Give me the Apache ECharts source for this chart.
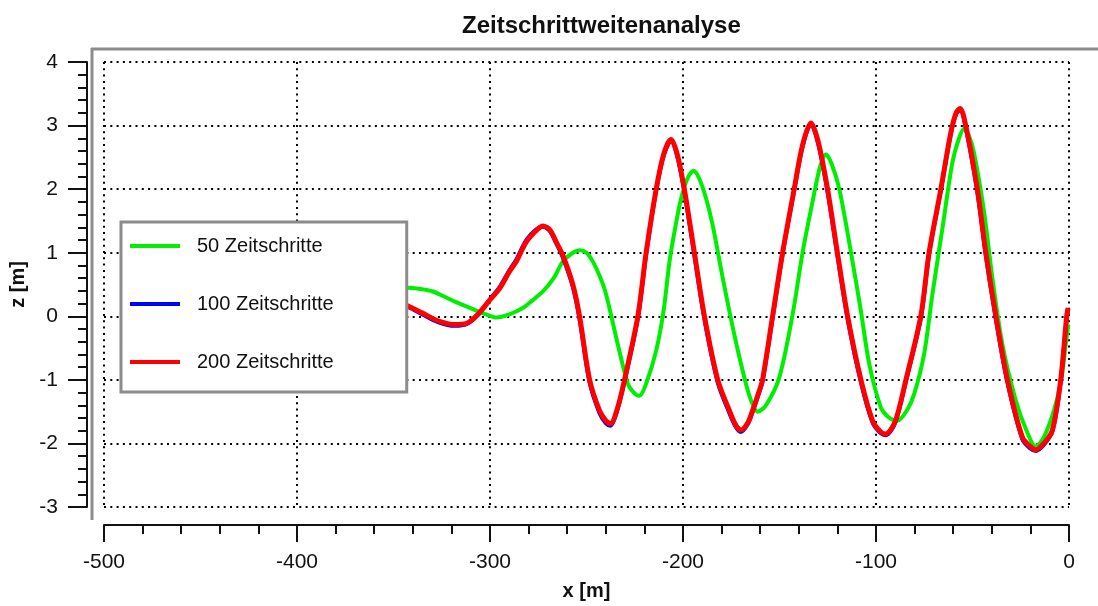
<!DOCTYPE html>
<html>
<head>
<meta charset="utf-8">
<title>Zeitschrittweitenanalyse</title>
<script src="https://cdn.jsdelivr.net/npm/echarts@6/dist/echarts.min.js"></script>
<style>
  html, body { margin: 0; padding: 0; background: #fff; }
  #main { width: 1098px; height: 606px; }
</style>
</head>
<body>
<div id="main"></div>
<script>
// values
var seriesNames = ['50 Zeitschritte', '100 Zeitschritte', '200 Zeitschritte'];
var xTicks = [-500, -400, -300, -200, -100, 0];
var zTicks = [-3, -2, -1, 0, 1, 2, 3, 4];

var x50 = [-346, -343, -336, -329.6, -323, -316.6, -307.1, -302, -296.7, -290, -283, -278, -272.6, -267, -262.3, -258, -253.6, -250, -246.7, -243, -239.8, -233.8, -228.6, -225.5, -222.6, -219, -213.9, -210, -207, -204, -201, -197.5, -194.5, -191.5, -188, -184.6, -179.4, -173.4, -167.4, -164, -161.3, -157, -150.1, -143.2, -138, -132.9, -129, -126, -123, -119, -113, -107.8, -103.5, -97.5, -93, -88.9, -84, -80.2, -75.1, -70.8, -65.6, -60.4, -57, -54.4, -52, -49.2, -44, -39.7, -34.5, -27.6, -22, -17.2, -13, -7.8, -4, -1.7, -0.3];
var z50 = [0.45, 0.45, 0.43, 0.39, 0.30, 0.21, 0.09, 0.03, -0.02, 0.03, 0.13, 0.25, 0.39, 0.60, 0.86, 0.98, 1.04, 1.00, 0.86, 0.62, 0.34, -0.44, -1.06, -1.20, -1.25, -1.05, -0.54, 0.10, 0.86, 1.40, 1.85, 2.18, 2.29, 2.16, 1.85, 1.43, 0.60, -0.29, -1.06, -1.38, -1.50, -1.40, -0.96, 0.03, 1.01, 1.80, 2.35, 2.55, 2.40, 2.00, 1.01, 0.08, -0.75, -1.43, -1.60, -1.64, -1.48, -1.22, -0.60, 0.34, 1.38, 2.42, 2.80, 2.95, 2.85, 2.57, 1.64, 0.60, -0.44, -1.32, -1.80, -2.05, -1.90, -1.48, -1.00, -0.44, -0.13];

var x100 = [-346, -343, -335, -327, -318.3, -312, -306.3, -300, -295, -290, -286.4, -281.2, -276, -272.6, -269, -265.7, -262.3, -257.1, -253.6, -248.4, -243.3, -240, -237.6, -234, -230.3, -223.4, -219.1, -213.9, -210, -206.2, -203, -199.3, -194.1, -188.9, -182, -176, -172.5, -170, -166.5, -163.9, -161, -158.8, -153.6, -148.4, -142.4, -138, -133.7, -130, -125.1, -120, -114.7, -107.8, -101.8, -97.5, -94.9, -90, -84.5, -76.8, -72.5, -66.4, -61.3, -58.5, -56.4, -53.5, -47.5, -43.1, -37.9, -31.9, -24.2, -20, -17.2, -13, -8.6, -4.3, -1.2, -0.5];
var z100 = [0.20, 0.16, 0.03, -0.09, -0.15, -0.12, 0.02, 0.27, 0.46, 0.72, 0.89, 1.20, 1.37, 1.41, 1.34, 1.15, 0.93, 0.47, -0.04, -1.04, -1.52, -1.68, -1.72, -1.47, -1.02, -0.03, 0.98, 1.98, 2.53, 2.76, 2.52, 1.96, 0.96, -0.04, -1.04, -1.52, -1.75, -1.82, -1.70, -1.50, -1.24, -1.02, -0.03, 0.98, 1.98, 2.68, 3.02, 2.72, 1.96, 0.96, -0.04, -1.04, -1.67, -1.84, -1.87, -1.67, -1.02, -0.03, 0.98, 1.98, 2.86, 3.18, 3.25, 2.97, 1.96, 0.96, -0.04, -1.04, -1.93, -2.08, -2.12, -2.02, -1.81, -1.02, -0.03, 0.10];

var x200 = [-346, -343, -335, -327, -318.3, -312, -306.3, -300, -295, -290, -286.4, -281.2, -276, -272.6, -269, -265.7, -262.3, -257.1, -253.6, -248.4, -243.3, -240, -237.6, -234, -230.3, -223.4, -219.1, -213.9, -210, -206.2, -203, -199.3, -194.1, -188.9, -182, -176, -172.5, -170, -166.5, -163.9, -161, -158.8, -153.6, -148.4, -142.4, -138, -133.7, -130, -125.1, -120, -114.7, -107.8, -101.8, -97.5, -94.9, -90, -84.5, -76.8, -72.5, -66.4, -61.3, -58.5, -56.4, -53.5, -47.5, -43.1, -37.9, -31.9, -24.2, -20, -17.2, -13, -8.6, -4.3, -1.2, -0.5];
var z200 = [0.21, 0.17, 0.05, -0.07, -0.13, -0.11, 0.03, 0.26, 0.44, 0.70, 0.86, 1.17, 1.35, 1.42, 1.36, 1.17, 0.96, 0.50, 0.00, -1.00, -1.48, -1.64, -1.69, -1.45, -1.00, 0.00, 1.00, 2.00, 2.55, 2.78, 2.55, 2.00, 1.00, 0.00, -1.00, -1.48, -1.72, -1.79, -1.68, -1.48, -1.22, -1.00, 0.00, 1.00, 2.00, 2.70, 3.04, 2.75, 2.00, 1.00, 0.00, -1.00, -1.64, -1.82, -1.85, -1.65, -1.00, 0.00, 1.00, 2.00, 2.88, 3.20, 3.27, 3.00, 2.00, 1.00, 0.00, -1.00, -1.90, -2.05, -2.10, -2.00, -1.79, -1.00, 0.00, 0.13];

function pairs(xs, zs) {
  var out = [];
  for (var i = 0; i < xs.length; i++) out.push([xs[i], zs[i]]);
  return out;
}

var font = 'Liberation Sans, Arial, sans-serif';
var dotted = { color: '#000', width: 2, type: [2, 4.3] };

var chart = echarts.init(document.getElementById('main'));
var option = {
  animation: false,
  backgroundColor: '#fff',
  title: {
    text: 'Zeitschrittweitenanalyse',
    left: 457,
    top: 9,
    textStyle: { fontFamily: font, fontSize: 24, fontWeight: 'bold', color: '#111' }
  },
  grid: { left: 104, right: 29, top: 62, bottom: 95 },
  legend: {
    orient: 'vertical',
    left: 121,
    top: 222,
    padding: [14, 73, 20, 9],
    itemGap: 38,
    itemWidth: 50,
    itemHeight: 4,
    icon: 'rect',
    backgroundColor: '#fff',
    borderColor: '#8c8c8c',
    borderWidth: 3,
    textStyle: { fontFamily: font, fontSize: 20, color: '#111', padding: [0, 0, 0, 12] },
    data: seriesNames
  },
  graphic: [
    { type: 'line', shape: { x1: 92, y1: 48, x2: 92, y2: 520 }, style: { stroke: '#8c8c8c', lineWidth: 3 } },
    { type: 'line', shape: { x1: 91, y1: 49, x2: 1098, y2: 49 }, style: { stroke: '#8c8c8c', lineWidth: 3 } }
  ],
  xAxis: {
    type: 'value',
    min: xTicks[0],
    max: xTicks[xTicks.length - 1],
    interval: 100,
    offset: 18,
    name: 'x [m]',
    nameLocation: 'middle',
    nameGap: 56,
    nameTextStyle: { fontFamily: font, fontSize: 20, fontWeight: 'bold', color: '#111' },
    axisLine: { show: true, onZero: false, lineStyle: { color: '#111', width: 2 } },
    axisTick: { show: true, length: 17, lineStyle: { color: '#111', width: 2 } },
    minorTick: { show: true, splitNumber: 5, length: 9, lineStyle: { color: '#111', width: 2 } },
    axisLabel: { margin: 27, fontFamily: font, fontSize: 21, color: '#111' },
    splitLine: { show: true, lineStyle: dotted }
  },
  yAxis: {
    type: 'value',
    min: zTicks[0],
    max: zTicks[zTicks.length - 1],
    interval: 1,
    offset: 17,
    name: 'z [m]',
    nameLocation: 'middle',
    nameGap: 54,
    nameTextStyle: { fontFamily: font, fontSize: 20, fontWeight: 'bold', color: '#111' },
    axisLine: { show: true, onZero: false, lineStyle: { color: '#111', width: 2 } },
    axisTick: { show: true, length: 19, lineStyle: { color: '#111', width: 2 } },
    minorTick: { show: true, splitNumber: 5, length: 9, lineStyle: { color: '#111', width: 2 } },
    axisLabel: { margin: 29, fontFamily: font, fontSize: 21, color: '#111' },
    splitLine: { show: true, lineStyle: dotted }
  },
  series: [
    {
      name: seriesNames[0], type: 'line', showSymbol: false, smooth: 0.3,
      color: '#00ee00', lineStyle: { width: 4 },
      data: pairs(x50, z50)
    },
    {
      name: seriesNames[1], type: 'line', showSymbol: false, smooth: 0.3,
      color: '#0000ff', lineStyle: { width: 4 },
      data: pairs(x100, z100)
    },
    {
      name: seriesNames[2], type: 'line', showSymbol: false, smooth: 0.3,
      color: '#ff0000', lineStyle: { width: 5 },
      data: pairs(x200, z200)
    }
  ]
};
chart.setOption(option);
</script>
</body>
</html>
